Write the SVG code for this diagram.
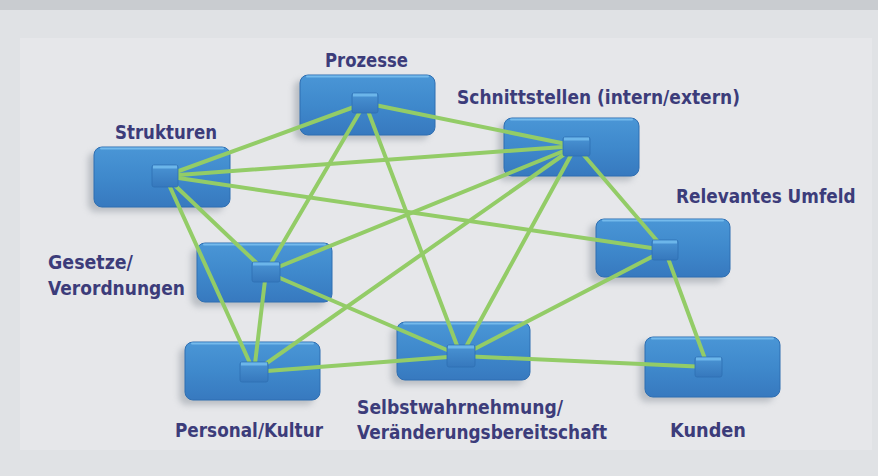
<svg xmlns="http://www.w3.org/2000/svg" width="878" height="476" viewBox="0 0 878 476">
  <defs>
    <linearGradient id="boxFill" x1="0" y1="0" x2="0" y2="1">
      <stop offset="0" stop-color="#4a96d6"/>
      <stop offset="0.5" stop-color="#3f89cc"/>
      <stop offset="1" stop-color="#3779bf"/>
    </linearGradient>
    <linearGradient id="hubFill" x1="0" y1="0" x2="0" y2="1">
      <stop offset="0" stop-color="#4a94d4"/>
      <stop offset="1" stop-color="#3678bd"/>
    </linearGradient>
    <filter id="soft" x="-20%" y="-30%" width="140%" height="160%">
      <feGaussianBlur stdDeviation="3"/>
    </filter>
    <style>
      .box { fill: url(#boxFill); stroke: #2f6fb2; stroke-width: 1; }
      .shine { fill: none; stroke: #74baec; stroke-width: 2; stroke-linecap: round; }
      .shadow { fill: #8f969f; opacity: 0.5; filter: url(#soft); }
      .hub { fill: url(#hubFill); stroke: #2f70b3; stroke-width: 0.8; }
      .hubtop { fill: #6cb6ea; }
      .edge { stroke: #93cc67; stroke-width: 4; stroke-linecap: round; fill: none; }
      .label { font-family: "DejaVu Sans", "Liberation Sans", sans-serif; font-weight: bold; font-size: 20px; fill: #3c3c7a; }
    </style>
  </defs>

  <!-- backdrop -->
  <rect x="0" y="0" width="878" height="476" fill="#e0e2e5"/>
  <rect x="0" y="0" width="878" height="10" fill="#c9ccd0"/>
  <rect x="20" y="38" width="852" height="412" fill="#e6e7ea"/>

  <!-- boxes -->
  <g id="strukturen">
    <rect class="shadow" x="88" y="152" width="136" height="60" rx="8"/>
    <rect class="box" x="94" y="147" width="136" height="60" rx="8"/>
    <path class="shine" d="M101 148.5 H223"/>
  </g>
  <g id="prozesse">
    <rect class="shadow" x="294" y="80" width="135" height="60" rx="8"/>
    <rect class="box" x="300" y="75" width="135" height="60" rx="8"/>
    <path class="shine" d="M307 76.5 H428"/>
  </g>
  <g id="schnittstellen">
    <rect class="shadow" x="498" y="123" width="136" height="58" rx="8"/>
    <rect class="box" x="504" y="118" width="135" height="58" rx="8"/>
    <path class="shine" d="M511 119.5 H632"/>
  </g>
  <g id="gesetze">
    <rect class="shadow" x="191" y="248" width="135" height="59" rx="8"/>
    <rect class="box" x="197" y="243" width="135" height="59" rx="8"/>
    <path class="shine" d="M204 244.5 H325"/>
  </g>
  <g id="personal">
    <rect class="shadow" x="179" y="347" width="135" height="58" rx="8"/>
    <rect class="box" x="185" y="342" width="135" height="58" rx="8"/>
    <path class="shine" d="M192 343.5 H313"/>
  </g>
  <g id="selbstwahrnehmung">
    <rect class="shadow" x="391" y="327" width="133" height="58" rx="8"/>
    <rect class="box" x="397" y="322" width="133" height="58" rx="8"/>
    <path class="shine" d="M404 323.5 H523"/>
  </g>
  <g id="umfeld">
    <rect class="shadow" x="589" y="224" width="135" height="59" rx="8"/>
    <rect class="box" x="596" y="219" width="134" height="58" rx="8"/>
    <path class="shine" d="M603 220.5 H723"/>
  </g>
  <g id="kunden">
    <rect class="shadow" x="639" y="342" width="135" height="60" rx="8"/>
    <rect class="box" x="645" y="337" width="135" height="60" rx="8"/>
    <path class="shine" d="M652 338.5 H773"/>
  </g>

  <!-- connectors between the hubs -->
  <g id="connectors">
    <line class="edge" x1="165" y1="176" x2="365" y2="103"/>
    <line class="edge" x1="165" y1="176" x2="576" y2="146"/>
    <line class="edge" x1="165" y1="176" x2="665" y2="250"/>
    <line class="edge" x1="165" y1="176" x2="266" y2="272"/>
    <line class="edge" x1="165" y1="176" x2="254" y2="372"/>
    <line class="edge" x1="365" y1="103" x2="576" y2="146"/>
    <line class="edge" x1="365" y1="103" x2="266" y2="272"/>
    <line class="edge" x1="365" y1="103" x2="461" y2="356"/>
    <line class="edge" x1="576" y1="146" x2="266" y2="272"/>
    <line class="edge" x1="576" y1="146" x2="254" y2="372"/>
    <line class="edge" x1="576" y1="146" x2="461" y2="356"/>
    <line class="edge" x1="576" y1="146" x2="665" y2="250"/>
    <line class="edge" x1="266" y1="272" x2="254" y2="372"/>
    <line class="edge" x1="266" y1="272" x2="461" y2="356"/>
    <line class="edge" x1="254" y1="372" x2="461" y2="356"/>
    <line class="edge" x1="461" y1="356" x2="665" y2="250"/>
    <line class="edge" x1="461" y1="356" x2="708" y2="367"/>
    <line class="edge" x1="665" y1="250" x2="708" y2="367"/>
  </g>

  <!-- hub squares on top of the connectors -->
  <g id="hubs">
    <rect class="hub" x="152" y="165" width="26" height="22" rx="2"/><rect class="hubtop" x="153" y="165.5" width="24" height="3"/>
    <rect class="hub" x="352" y="93" width="26" height="20" rx="2"/><rect class="hubtop" x="353" y="93.5" width="24" height="3"/>
    <rect class="hub" x="563" y="137" width="27" height="19" rx="2"/><rect class="hubtop" x="564" y="137.5" width="25" height="3"/>
    <rect class="hub" x="252" y="262" width="28" height="20" rx="2"/><rect class="hubtop" x="253" y="262.5" width="26" height="3"/>
    <rect class="hub" x="240" y="362" width="28" height="20" rx="2"/><rect class="hubtop" x="241" y="362.5" width="26" height="3"/>
    <rect class="hub" x="447" y="345" width="28" height="22" rx="2"/><rect class="hubtop" x="448" y="345.5" width="26" height="3"/>
    <rect class="hub" x="652" y="240" width="26" height="20" rx="2"/><rect class="hubtop" x="653" y="240.5" width="24" height="3"/>
    <rect class="hub" x="695" y="357" width="27" height="20" rx="2"/><rect class="hubtop" x="696" y="357.5" width="25" height="3"/>
  </g>

  <!-- labels -->
  <g id="labels">
    <text class="label" x="325" y="67" textLength="83" lengthAdjust="spacingAndGlyphs">Prozesse</text>
    <text class="label" x="115" y="139" textLength="102" lengthAdjust="spacingAndGlyphs">Strukturen</text>
    <text class="label" x="457" y="104" textLength="283" lengthAdjust="spacingAndGlyphs">Schnittstellen (intern/extern)</text>
    <text class="label" transform="translate(676 203) scale(0.845 1)">Relevantes Umfeld</text>
    <text class="label" x="48" y="269" textLength="85" lengthAdjust="spacingAndGlyphs">Gesetze/</text>
    <text class="label" x="48" y="295" textLength="137" lengthAdjust="spacingAndGlyphs">Verordnungen</text>
    <text class="label" x="175" y="437" textLength="148" lengthAdjust="spacingAndGlyphs">Personal/Kultur</text>
    <text class="label" x="357" y="414" textLength="206" lengthAdjust="spacingAndGlyphs">Selbstwahrnehmung/</text>
    <text class="label" x="357" y="439" textLength="250" lengthAdjust="spacingAndGlyphs">Veränderungsbereitschaft</text>
    <text class="label" x="670" y="437" textLength="76" lengthAdjust="spacingAndGlyphs">Kunden</text>
  </g>
</svg>
